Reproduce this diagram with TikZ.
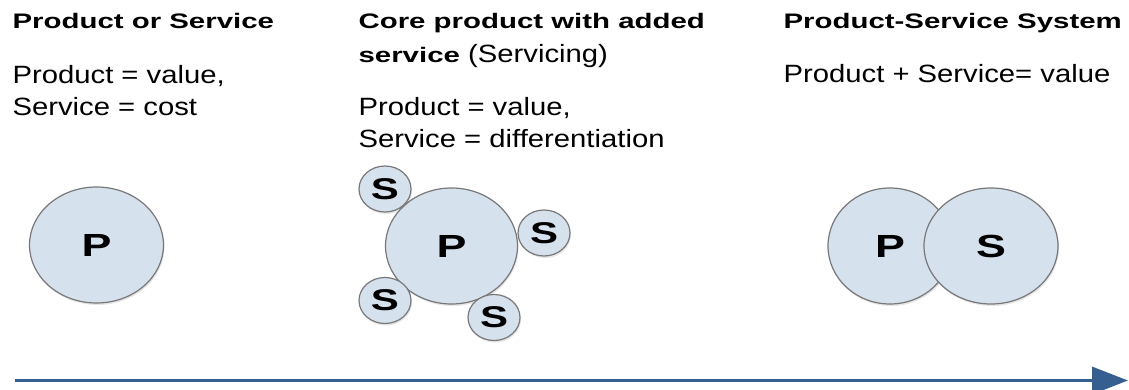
\documentclass[tikz,border=0pt]{standalone}
\usepackage{fontspec}
\setmainfont{Liberation Sans}[FakeStretch=1.17]
\newfontfamily\headfont{Liberation Sans}[FakeStretch=1.4]
\usetikzlibrary{shapes.geometric,arrows.meta,shadows}
\definecolor{pfill}{RGB}{214,225,238}
\definecolor{pline}{RGB}{120,120,120}
\definecolor{arrowblue}{RGB}{54,95,145}
\begin{document}
\begin{tikzpicture}[x=1pt, y=-1pt, line width=1.2pt,
  title node/.style={anchor=base west, inner sep=0pt, align=left, font=\headfont\fontsize{21}{34}\selectfont\bfseries},
  text node/.style={anchor=base west, inner sep=0pt, align=left, font=\fontsize{25}{32}\selectfont},
  big node/.style={ellipse, draw=pline, fill=pfill, minimum width=134pt, minimum height=116pt, inner sep=0pt, font=\headfont\fontsize{32}{32}\selectfont\bfseries, drop shadow={opacity=0.2, shadow xshift=1pt, shadow yshift=-2pt}},
  small node/.style={ellipse, draw=pline, fill=pfill, minimum width=52pt, minimum height=46pt, inner sep=0pt, font=\headfont\fontsize{30}{30}\selectfont\bfseries, drop shadow={opacity=0.2, shadow xshift=1pt, shadow yshift=-2pt}}]
\useasboundingbox (0,0) rectangle (1129,390);
%texts (base = last line)
\begin{scope}
\node[title node] (t1) at (12,28.5) {Product or Service};
\node[text node] (b1) at (12,116) {Product = value,\\Service = cost};
\node[title node] (t2) at (358,62.5) {Core product with added\\service {\mdseries\normalfont\fontsize{25}{34}\selectfont (Servicing)}};
\node[text node] (b2) at (358,148) {Product = value,\\Service = differentiation};
\node[title node] (t3) at (783,28.5) {Product-Service System};
\node[text node] (b3) at (783,83) {Product + Service= value};
\end{scope}
%circles
\begin{scope}
\node[big node] (p1) at (96.5,245) {P};
\node[big node, minimum width=132pt] (p2) at (451.5,246) {P};
\node[small node] (s1) at (385,189) {S};
\node[small node] (s2) at (544,233) {S};
\node[small node] (s3) at (385,300.5) {S};
\node[small node] (s4) at (494,317.5) {S};
\node[big node, minimum width=124pt] (p3) at (890,246) {P};
\node[big node] (s5) at (991,246) {S};
\end{scope}
%arrow
\coordinate (a1) at (15,380.5);
\coordinate (a2) at (1128,380.5);
\draw[arrowblue, line width=3.5pt, -{Triangle[length=36pt,width=27pt]}] (a1) -- (a2);
\end{tikzpicture}
\end{document}
